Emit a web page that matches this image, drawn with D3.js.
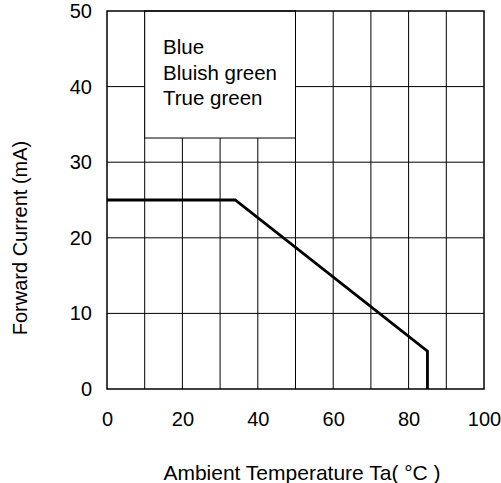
<!DOCTYPE html>
<html>
<head>
<meta charset="utf-8">
<script src="https://cdn.jsdelivr.net/npm/d3@7"></script>
<style>
  html, body { margin: 0; padding: 0; background: #fff; }
  svg { display: block; }
  text { font-family: "Liberation Sans", Arial, sans-serif; fill: #000; }
</style>
</head>
<body>
<svg id="chart" width="501" height="483"></svg>
<script>
// Derating curve: forward current vs ambient temperature
const temperature = [0, 34, 85, 85];
const forwardCurrent = [25, 25, 5, 0];

const xTicks = [0, 20, 40, 60, 80, 100];
const yTicks = [0, 10, 20, 30, 40, 50];
const xGrid = [10, 20, 30, 40, 50, 60, 70, 80, 90];
const yGrid = [10, 20, 30, 40];
const legendLines = ["Blue", "Bluish green", "True green"];

const svg = d3.select("#chart");
const plot = { left: 107, right: 484, top: 11, bottom: 389 };

const x = d3.scaleLinear().domain([0, 100]).range([plot.left, plot.right]);
const y = d3.scaleLinear().domain([0, 50]).range([plot.bottom, plot.top]);

// grid
svg.append("g").selectAll("line").data(xGrid).join("line")
  .attr("x1", d => x(d)).attr("x2", d => x(d))
  .attr("y1", plot.top).attr("y2", plot.bottom)
  .attr("stroke", "#000").attr("stroke-width", 1);
svg.append("g").selectAll("line").data(yGrid).join("line")
  .attr("x1", plot.left).attr("x2", plot.right)
  .attr("y1", d => y(d)).attr("y2", d => y(d))
  .attr("stroke", "#000").attr("stroke-width", 1);

// legend panel covering the upper-left grid
const box = { x0: 10, x1: 50, y0: 33.2, y1: 50 };
svg.append("rect")
  .attr("x", x(box.x0)).attr("y", y(box.y1))
  .attr("width", x(box.x1) - x(box.x0)).attr("height", y(box.y0) - y(box.y1))
  .attr("fill", "#fff").attr("stroke", "#000").attr("stroke-width", 1);
svg.append("g").selectAll("text").data(legendLines).join("text")
  .attr("x", 163).attr("y", (d, i) => 54 + i * 25.5)
  .attr("font-size", 20.5)
  .text(d => d);

// frame
svg.append("rect")
  .attr("x", plot.left).attr("y", plot.top)
  .attr("width", plot.right - plot.left).attr("height", plot.bottom - plot.top)
  .attr("fill", "none").attr("stroke", "#000").attr("stroke-width", 1.5);

// axes labels
const xAxis = d3.axisBottom(x).tickValues(xTicks).tickSize(0).tickPadding(23);
const gx = svg.append("g").attr("transform", `translate(0,${plot.bottom})`).call(xAxis);
gx.select(".domain").remove();
gx.selectAll("text").attr("font-size", 20).attr("font-family", null).attr("fill", "#000");

const yAxis = d3.axisLeft(y).tickValues(yTicks).tickSize(0).tickPadding(15);
const gy = svg.append("g").attr("transform", `translate(${plot.left},0)`).call(yAxis);
gy.select(".domain").remove();
gy.selectAll("text").attr("font-size", 20).attr("font-family", null).attr("fill", "#000");

// curve
const line = d3.line().x((d, i) => x(temperature[i])).y(d => y(d));
svg.append("path")
  .datum(forwardCurrent)
  .attr("d", line)
  .attr("fill", "none").attr("stroke", "#000").attr("stroke-width", 2.8)
  .attr("stroke-linejoin", "miter");

// axis titles
svg.append("text")
  .attr("x", 302).attr("y", 480)
  .attr("text-anchor", "middle").attr("font-size", 21)
  .text("Ambient Temperature Ta( °C )");
svg.append("text")
  .attr("transform", "translate(27,238) rotate(-90)")
  .attr("text-anchor", "middle").attr("font-size", 20)
  .text("Forward Current (mA)");
</script>
</body>
</html>
